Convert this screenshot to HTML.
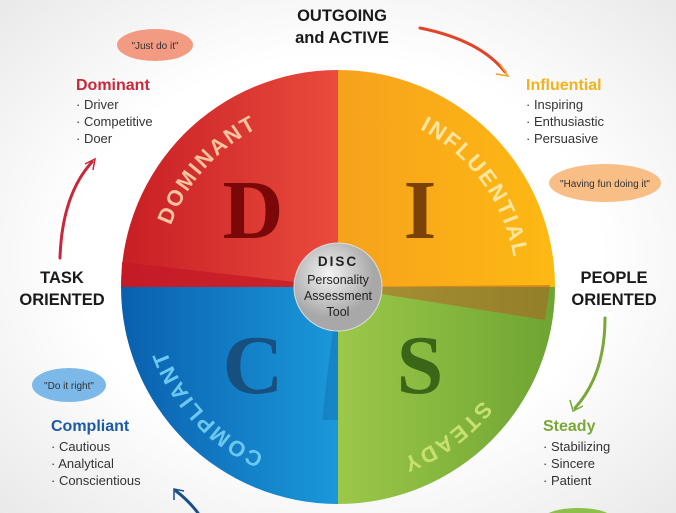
<!DOCTYPE html>
<html><head><style>
body{margin:0;width:676px;height:513px;overflow:hidden;background:radial-gradient(ellipse at 50% 50%,#fff 55%,#e9e9e9 100%);font-family:"Liberation Sans",sans-serif;}
svg{position:absolute;left:0;top:0}
</style></head><body>
<svg width="676" height="513" viewBox="0 0 676 513">
<defs>
<linearGradient id="gd" x1="0" x2="1"><stop offset="0" stop-color="#c81e24"/><stop offset="1" stop-color="#e94b3c"/></linearGradient>
<linearGradient id="gi" x1="0" x2="1"><stop offset="0" stop-color="#f6a21c"/><stop offset="1" stop-color="#fdb913"/></linearGradient>
<linearGradient id="gc" x1="0" x2="1"><stop offset="0" stop-color="#0a5fae"/><stop offset="1" stop-color="#1a98da"/></linearGradient>
<linearGradient id="gs" x1="0" x2="1"><stop offset="0" stop-color="#9cc84a"/><stop offset="1" stop-color="#6ea432"/></linearGradient>
<radialGradient id="gm" cx="0.4" cy="0.35"><stop offset="0" stop-color="#f4f4f4"/><stop offset="1" stop-color="#a8a8a8"/></radialGradient>
<path id="ring" d="M 516 287 A 178 178 0 1 1 160 287 A 178 178 0 1 1 516 287"/>
<path id="ring2" d="M 521 287 A 183 183 0 1 1 155 287 A 183 183 0 1 1 521 287"/>
</defs>
<path d="M338 287 L121 287 A217 217 0 0 1 338 70 Z" fill="url(#gd)"/>
<path d="M338 287 L338 70 A217 217 0 0 1 555 287 Z" fill="url(#gi)"/>
<path d="M338 287 L555 287 A217 217 0 0 1 338 504 Z" fill="url(#gs)"/>
<path d="M338 287 L338 504 A217 217 0 0 1 121 287 Z" fill="url(#gc)"/>
<path d="M338 287 L122 262 L121 287 Z" fill="#c41a28" opacity="0.8"/>
<path d="M338 287 L550 285 L545 320 Z" fill="#b85a20" opacity="0.5"/>
<path d="M338 287 L322 420 L338 420 Z" fill="#137ab8" opacity="0.6"/>
<g font-family="'Liberation Serif',serif" font-weight="bold" font-size="84" text-anchor="middle">
<text x="253" y="238" fill="#7a0808">D</text>
<text x="420" y="238" fill="#7a4208">I</text>
<text x="253" y="393" fill="#17507e">C</text>
<text x="420" y="393" fill="#3b6618">S</text>
</g>
<g font-weight="bold" font-size="22" letter-spacing="2">
<text fill="#f8c4a0"><textPath href="#ring" startOffset="55.6%">DOMINANT</textPath></text>
<text fill="#ffe6a0"><textPath href="#ring" startOffset="82.6%">INFLUENTIAL</textPath></text>
<text fill="#c8e070"><textPath href="#ring2" startOffset="10.6%">STEADY</textPath></text>
<text fill="#6cc8f0"><textPath href="#ring2" startOffset="31.6%">COMPLIANT</textPath></text>
</g>
<circle cx="338" cy="287" r="44" fill="url(#gm)" stroke="#ddd" stroke-width="1"/>
<g text-anchor="middle" fill="#222" font-size="12.5">
<text x="338" y="266" font-weight="bold" font-size="13.5" letter-spacing="2">DISC</text>
<text x="338" y="284">Personality</text>
<text x="338" y="300">Assessment</text>
<text x="338" y="316">Tool</text>
</g>
<g text-anchor="middle" font-weight="bold" font-size="16.5" fill="#1a1a1a">
<text x="342" y="21">OUTGOING</text><text x="342" y="43">and ACTIVE</text>
<text x="62" y="283">TASK</text><text x="62" y="305">ORIENTED</text>
<text x="614" y="283">PEOPLE</text><text x="614" y="305">ORIENTED</text>
</g>
<ellipse cx="155" cy="45" rx="38" ry="16" fill="#f29a82"/>
<text x="155" y="49" font-size="10" text-anchor="middle" fill="#333">"Just do it"</text>
<ellipse cx="605" cy="183" rx="56" ry="19" fill="#f8be86"/>
<text x="605" y="187" font-size="10" text-anchor="middle" fill="#333">"Having fun doing it"</text>
<ellipse cx="69" cy="385" rx="37" ry="17" fill="#7cb8e8"/>
<text x="69" y="389" font-size="10" text-anchor="middle" fill="#333">"Do it right"</text>
<ellipse cx="578" cy="520" rx="36" ry="12" fill="#8cc04a"/>
<g font-size="16" font-weight="bold">
<text x="76" y="90" fill="#c8283a">Dominant</text>
<text x="526" y="90" fill="#f2b21c">Influential</text>
<text x="51" y="431" fill="#1a5aa8">Compliant</text>
<text x="543" y="431" fill="#7aa838">Steady</text>
</g>
<g font-size="13" fill="#333">
<text x="76" y="109">· Driver</text><text x="76" y="126">· Competitive</text><text x="76" y="143">· Doer</text>
<text x="526" y="109">· Inspiring</text><text x="526" y="126">· Enthusiastic</text><text x="526" y="143">· Persuasive</text>
<text x="51" y="451">· Cautious</text><text x="51" y="468">· Analytical</text><text x="51" y="485">· Conscientious</text>
<text x="543" y="451">· Stabilizing</text><text x="543" y="468">· Sincere</text><text x="543" y="485">· Patient</text>
</g>
<g fill="none" stroke-width="3" stroke-linecap="round">
<path d="M420 28 Q480 40 505 72" stroke="#e0452a"/>
<path d="M60 258 Q62 195 92 162" stroke="#c8283a"/>
<path d="M605 318 Q605 375 575 408" stroke="#7aa838"/>
<path d="M198 513 Q188 500 176 491" stroke="#1a4f8a"/>
</g>
<g fill="none" stroke-width="1.5">
<path d="M500 64 L508 76 L496 74" stroke="#f5a020"/>
<path d="M85 164 L95 159 L93 170" stroke="#c8283a"/>
<path d="M570 400 L573 411 L583 406" stroke="#7aa838"/>
<path d="M174 500 L174 489 L184 491" stroke="#1a4f8a"/>
</g>
</svg>
</body></html>
